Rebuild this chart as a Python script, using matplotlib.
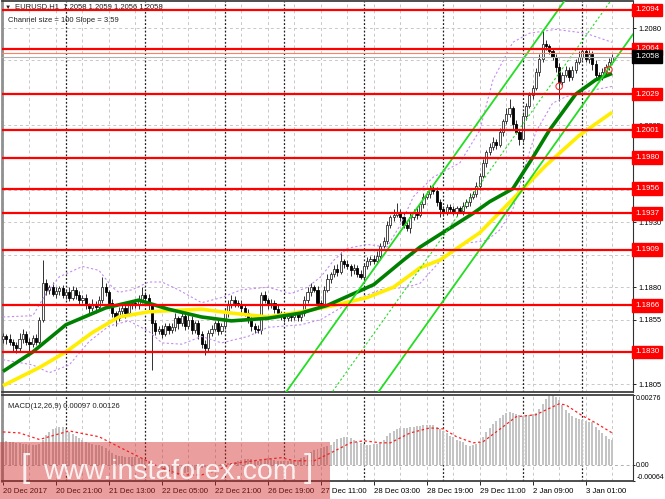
import numpy as np
import matplotlib
matplotlib.use("Agg")
import matplotlib.pyplot as plt
from matplotlib.patches import Rectangle

plt.rcParams['font.family'] = ['Liberation Sans', 'DejaVu Sans']

# hourly EURUSD bars, prices in pips above 1.1800
first_open = 40
close_pips = [42, 40, 38, 35, 33, 40, 44, 38, 36, 41,
              38, 55, 83, 78, 80, 75, 77, 79, 74, 76,
              72, 78, 74, 70, 72, 66, 64, 67, 65, 70,
              80, 76, 68, 60, 56, 62, 64, 60, 66, 68,
              66, 70, 74, 72, 66, 52, 46, 48, 44, 50,
              47, 49, 56, 52, 58, 50, 55, 47, 52, 44,
              36, 33, 45, 48, 52, 46, 50, 60, 66, 70,
              68, 67, 64, 60, 55, 50, 48, 47, 74, 70,
              66, 68, 63, 60, 58, 56, 58, 57, 59, 57,
              60, 70, 76, 80, 78, 68, 66, 78, 86, 90,
              94, 92, 100, 98, 96, 93, 95, 90, 88, 96,
              100, 102, 100, 104, 112, 116, 128, 134, 136, 138,
              134, 128, 126, 134, 138, 136, 144, 150, 152, 156,
              154, 146, 140, 138, 142, 140, 138, 141, 139, 143,
              146, 150, 152, 158, 166, 176, 184, 188, 192, 190,
              200, 208, 214, 218, 206, 200, 194, 212, 220, 228,
              234, 246, 256, 268, 266, 262, 258, 250, 238, 244,
              248, 242, 248, 254, 258, 262, 256, 260, 252, 244,
              242, 246, 250, 254, 258]
wick_up = [3, 2, 4, 2, 3, 5, 4, 2, 3, 2,
           3, 2, 18, 3, 2, 4, 3, 2, 3, 2,
           4, 3, 2, 3, 2, 3, 2, 4, 2, 3,
           8, 3, 2, 3, 2, 3, 4, 2, 3, 2,
           3, 4, 6, 2, 3, 2, 3, 2, 3, 2,
           2, 3, 4, 2, 3, 2, 4, 3, 2, 3,
           2, 3, 2, 3, 2, 3, 2, 3, 4, 4,
           3, 2, 3, 2, 3, 2, 2, 3, 2, 3,
           2, 3, 2, 3, 2, 2, 3, 2, 2, 3,
           2, 3, 4, 3, 2, 3, 2, 3, 4, 2,
           3, 4, 7, 2, 3, 2, 3, 2, 3, 2,
           3, 2, 3, 4, 2, 3, 3, 2, 4, 7,
           2, 3, 2, 3, 2, 3, 2, 3, 2, 3,
           2, 3, 2, 3, 2, 2, 3, 2, 2, 3,
           2, 3, 2, 3, 2, 3, 2, 3, 4, 2,
           3, 2, 4, 7, 2, 3, 2, 3, 2, 3,
           2, 3, 4, 11, 3, 2, 3, 2, 3, 2,
           3, 2, 3, 2, 4, 3, 2, 3, 2, 3,
           2, 3, 2, 3, 2]
wick_dn = [3, 4, 3, 5, 4, 2, 3, 3, 6, 2,
           3, 2, 2, 4, 3, 2, 3, 3, 2, 3,
           3, 2, 3, 4, 2, 3, 4, 2, 5, 2,
           2, 3, 4, 3, 6, 2, 3, 4, 2, 3,
           2, 3, 2, 3, 4, 36, 3, 2, 3, 2,
           3, 2, 3, 4, 2, 3, 2, 3, 2, 4,
           3, 5, 2, 3, 2, 3, 2, 2, 3, 2,
           3, 2, 3, 2, 3, 4, 3, 2, 3, 2,
           3, 2, 3, 2, 3, 3, 2, 3, 2, 3,
           3, 2, 2, 3, 2, 4, 3, 2, 2, 3,
           2, 3, 2, 3, 2, 4, 3, 2, 2, 3,
           2, 3, 2, 2, 3, 2, 3, 2, 3, 2,
           3, 2, 3, 4, 2, 3, 2, 3, 2, 3,
           2, 3, 6, 3, 2, 3, 2, 3, 2, 3,
           2, 3, 2, 2, 3, 2, 3, 2, 2, 3,
           2, 3, 2, 3, 4, 2, 4, 2, 3, 2,
           3, 2, 3, 2, 3, 2, 3, 4, 14, 3,
           2, 3, 2, 3, 2, 3, 2, 3, 4, 3,
           3, 2, 3, 2, 2]

# moving averages (bar, pips)
ma_green_bar = [0, 9, 19, 31, 41, 50, 60, 69, 80, 90, 98, 105, 112, 121, 126, 134, 142, 147, 154, 160, 165, 173, 179, 184]
ma_green_pips = [15, 30, 51, 64, 70, 63, 57, 54, 56, 60, 66, 74, 82, 101, 111, 124, 137, 146, 156, 180, 201, 229, 240, 245]
ma_yellow_bar = [0, 11, 19, 27, 35, 44, 51, 60, 69, 80, 90, 100, 110, 118, 126, 132, 144, 154, 164, 174, 184]
ma_yellow_pips = [4, 18, 30, 45, 57, 61, 62, 63, 60, 57, 61, 66, 72, 80, 95, 101, 122, 148, 174, 197, 215]

# envelope bands (bar, pips)
band_up_bar = [0, 9, 13, 17, 24, 29, 33, 35, 39, 44, 48, 53, 60, 66, 72, 80, 87, 92, 96, 100, 104, 110, 116,
               120, 124, 130, 138, 144, 148, 154, 159, 167, 176, 184]
band_up_pips = [57, 58, 75, 88, 96, 93, 80, 76, 78, 84, 84, 78, 68, 72, 78, 80, 75, 80, 88, 101, 110, 113, 111,
                128, 150, 165, 176, 201, 240, 269, 276, 279, 276, 269]
band_dn_bar = [0, 9, 14, 20, 26, 32, 38, 44, 48, 54, 60, 66, 74, 80, 90, 96, 102, 108, 114, 122, 126, 132,
               140, 146, 150, 154, 158, 161, 166, 170, 178, 184]
band_dn_pips = [24, 20, 14, 20, 38, 50, 54, 46, 37, 36, 42, 37, 42, 49, 51, 55, 64, 72, 78, 80, 83, 100,
                114, 116, 124, 140, 176, 200, 222, 227, 232, 235]

# regression channel: slope in pips per bar, width in pips
channel_slope = 3.59
channel_size = 100
channel_anchor_bar = 85.5
channel_anchor_pips = -1

levels = [1.2094, 1.2064, 1.2029, 1.2001, 1.1980, 1.1956, 1.1937, 1.1909, 1.1866, 1.1830]
bid, ask = 1.2058, 1.2061
price_ticks = [1.1805, 1.1830, 1.1855, 1.1880, 1.1905, 1.1930, 1.1955, 1.1980, 1.2005, 1.2030, 1.2055, 1.2080]
hidden_ticks = [1.1830, 1.1955, 1.1980, 1.2030]
marks_bar = [168, 183]
marks_pips = [235, 248]

# MACD (units of 1e-5)
macd_hist = [95, 93, 92, 90, 88, 86, 84, 82, 80, 80,
             78, 82, 100, 118, 130, 140, 146, 150, 148, 140,
             130, 122, 115, 105, 98, 92, 88, 84, 80, 78,
             76, 65, 55, 48, 40, 36, 34, 32, 30, 30,
             30, 28, 26, 22, 16, 8, 0, -8, -15, -22,
             -30, -36, -40, -42, -38, -32, -28, -24, -20, -16,
             -14, -10, -6, -4, -2, 0, 2, 4, 6, 8,
             10, 14, 18, 22, 24, 24, 20, 16, 20, 24,
             26, 24, 20, 16, 14, 14, 16, 16, 18, 20,
             26, 30, 40, 50, 58, 64, 68, 72, 76, 80,
             92, 102, 106, 108, 110, 106, 98, 92, 88, 84,
             80, 80, 82, 84, 88, 100, 112, 124, 134, 140,
             144, 144, 146, 148, 150, 152, 154, 156, 158, 158,
             156, 150, 142, 132, 124, 114, 108, 100, 94, 90,
             80, 76, 78, 84, 92, 108, 128, 146, 160, 172,
             186, 196, 205, 209, 206, 200, 196, 194, 194, 198,
             202, 206, 222, 240, 262, 272, 276, 270, 256, 236,
             218, 206, 194, 186, 180, 176, 172, 170, 168, 150,
             136, 124, 112, 104, 97]
signal_bar = [0, 5, 11, 20, 29, 35, 41, 47, 54, 60, 65, 69, 78, 84, 88, 94, 99, 105, 109, 114, 117,
              123, 129, 133, 137, 142, 145, 151, 155, 161, 164, 168, 170, 175, 179, 184]
signal_val = [130, 126, 100, 134, 111, 71, 32, -8, -40, -40, -20, 4, 20, 28, 16, 16, 47, 87, 95, 87, 87,
              126, 146, 142, 111, 87, 91, 150, 190, 198, 217, 241, 237, 194, 166, 126]

time_labels = ['20 Dec 2017', '20 Dec 21:00', '21 Dec 13:00', '22 Dec 05:00', '22 Dec 21:00', '26 Dec 19:00',
               '27 Dec 11:00', '28 Dec 03:00', '28 Dec 19:00', '29 Dec 11:00', '2 Jan 09:00', '3 Jan 01:00']
label_bars = [0, 16, 32, 48, 64, 80, 96, 112, 128, 144, 160, 176]
day_starts = [19, 43, 67, 85, 109, 133, 157, 175]

FS = 5.4  # small terminal font


def px(p):
    return 1.18 + np.asarray(p, dtype=float) / 10000


W, H = 665, 499
fig = plt.figure(figsize=(W / 100, H / 100), dpi=100)
ax = fig.add_axes([2 / W, 107 / H, 631 / W, 391 / H])
mx = fig.add_axes([2 / W, 18 / H, 631 / W, 86 / H])
xlim = (-0.3, 190.3)

for a in (ax, mx):
    a.set_xlim(*xlim)
    for b in range(0, 191, 8):
        a.axvline(b, color='#c8c8c8', lw=0.7, ls=(0, (3, 3)), zorder=0)
    for d in day_starts:
        a.axvline(d, color='#202020', lw=0.9, ls=(0, (1.5, 1.5)), zorder=0.5)
    a.spines['left'].set_color('#909090')
    a.spines['left'].set_linewidth(2)
    a.spines['right'].set_color('#303030')
    a.spines['top'].set_color('#404040')
    a.spines['bottom'].set_color('#404040')
    a.spines['top'].set_linewidth(1.3)
    a.spines['bottom'].set_linewidth(1.3)

# main price panel
ax.set_ylim(1.17991, 1.21009)
for p in price_ticks:
    ax.axhline(p, color='#c8c8c8', lw=0.7, ls=(0, (3, 3)), zorder=0)

closes = px(close_pips)
opens = np.r_[px(first_open), closes[:-1]]
highs = np.maximum(opens, closes) + np.array(wick_up) / 10000
lows = np.minimum(opens, closes) - np.array(wick_dn) / 10000
bars = np.arange(len(closes))
ax.vlines(bars, lows, highs, color='#303030', lw=0.7, zorder=3)
up = closes >= opens
body_lo = np.minimum(opens, closes)
body_h = np.maximum(np.abs(closes - opens), 0.00002)
ax.bar(bars[up], body_h[up], bottom=body_lo[up], width=0.65, color='white',
       edgecolor='#303030', lw=0.6, zorder=3.5)
ax.bar(bars[~up], body_h[~up], bottom=body_lo[~up], width=0.65, color='black',
       edgecolor='black', lw=0.6, zorder=3.5)

ax.plot(band_up_bar, px(band_up_pips), color='#c58cf0', lw=0.8, ls=(0, (2, 2)), zorder=4)
ax.plot(band_dn_bar, px(band_dn_pips), color='#c58cf0', lw=0.8, ls=(0, (2, 2)), zorder=4)
ax.plot(ma_yellow_bar, px(ma_yellow_pips), color='#ffee00', lw=2.6, solid_capstyle='butt', zorder=4.5)
ax.plot(ma_green_bar, px(ma_green_pips), color='#008000', lw=2.6, solid_capstyle='butt', zorder=4.6)

cx = np.array(xlim)
top_line = channel_anchor_pips + channel_slope * (cx - channel_anchor_bar)
ax.plot(cx, px(top_line), color='#22dd22', lw=1.3, zorder=5)
ax.plot(cx, px(top_line - channel_size), color='#22dd22', lw=1.3, zorder=5)
ax.plot(cx, px(top_line - channel_size / 2), color='#22dd22', lw=0.8, ls=(0, (2, 2)), zorder=5)

ax.scatter(marks_bar, px(marks_pips), s=22, facecolors='none', edgecolors='#ff3030', lw=0.8, zorder=6)

ax.axhline(ask, color='#ff8060', lw=0.8, zorder=5.5)
ax.axhline(bid, color='#b0b0b0', lw=0.8, zorder=5.5)
for lv in levels:
    ax.axhline(lv, color='#ff0000', lw=1.6, zorder=6)

ax.yaxis.tick_right()
ax.set_yticks(price_ticks)
ax.set_yticklabels(['' if p in hidden_ticks else f'{p:.4f}' for p in price_ticks])
ax.tick_params(axis='y', length=2.5, width=0.6, pad=1.5, labelsize=FS, colors='black')
ax.set_xticks([])

box_kw = dict(xycoords=('axes fraction', 'data'), xytext=(1.5, 0), textcoords='offset points',
              ha='left', va='center', fontsize=FS + 0.3, color='white', annotation_clip=False, zorder=10)
for lv in levels:
    ax.annotate(f'{lv:.4f}', xy=(1.0, lv),
                bbox=dict(boxstyle='square,pad=0.35', fc='#ff0000', ec='#ff0000'), **box_kw)
ax.annotate(f'{bid:.4f}', xy=(1.0, bid),
            bbox=dict(boxstyle='square,pad=0.35', fc='black', ec='black'), **box_kw)

fig.text(5 / W, 1 - 7 / H, '▼', fontsize=4.5, va='center', ha='left', color='#202020')
fig.text(15 / W, 1 - 7 / H, 'EURUSD,H1  1.2058 1.2059 1.2056 1.2058', fontsize=FS + 0.1,
         va='center', ha='left', color='#202020')
fig.text(8 / W, 1 - 20 / H, 'Channel size = 100 Slope = 3.59', fontsize=FS + 0.1,
         va='center', ha='left', color='#202020')

# MACD panel
mx.set_ylim(-0.00064, 0.00276)
hist = np.array(macd_hist) / 100000
mx.bar(bars, hist, width=0.6, color='#c4c4c4', zorder=2)
mx.plot(signal_bar, np.array(signal_val) / 100000, color='#ff2020', lw=0.9, ls=(0, (2, 2)), zorder=3)
mx.axhline(0, color='#b0b0b0', lw=0.7, ls=(0, (3, 3)), zorder=1)
mx.yaxis.tick_right()
mx.set_yticks([-0.00064, 0.0, 0.00276])
mx.set_yticklabels(['-0.00064', '0.00', '0.00276'])
mx.tick_params(axis='y', length=1.5, width=0.6, pad=0.8, labelsize=5.0)
ylabs = mx.get_yticklabels()
ylabs[0].set_va('bottom')
ylabs[2].set_va('top')
mx.set_xticks(label_bars)
mx.set_xticklabels(time_labels, ha='left')
mx.tick_params(axis='x', length=3, width=0.6, pad=2, labelsize=FS + 0.2)
mx.text(6 / 631, 1 - 12 / 86, 'MACD(12,26,9) 0.00097 0.00126', transform=mx.transAxes,
        fontsize=FS + 0.1, va='center', ha='left', color='#202020')

# watermark
fig.patches.append(Rectangle((0, 0), 330 / W, 57 / H, transform=fig.transFigure,
                             fc=(0.82, 0.16, 0.16, 0.45), ec='none', zorder=20))
fig.text(170 / W, (H - 472) / H, 'www.instaforex.com', fontsize=20.5, color='white', alpha=0.85,
         ha='center', va='center', zorder=21)
fig.text(25 / W, (H - 469) / H, '[', fontsize=24, color='white', alpha=0.85,
         ha='center', va='center', zorder=21)
fig.text(308 / W, (H - 469) / H, ']', fontsize=24, color='white', alpha=0.85,
         ha='center', va='center', zorder=21)

fig.savefig('out.png', dpi=100, facecolor='white')
